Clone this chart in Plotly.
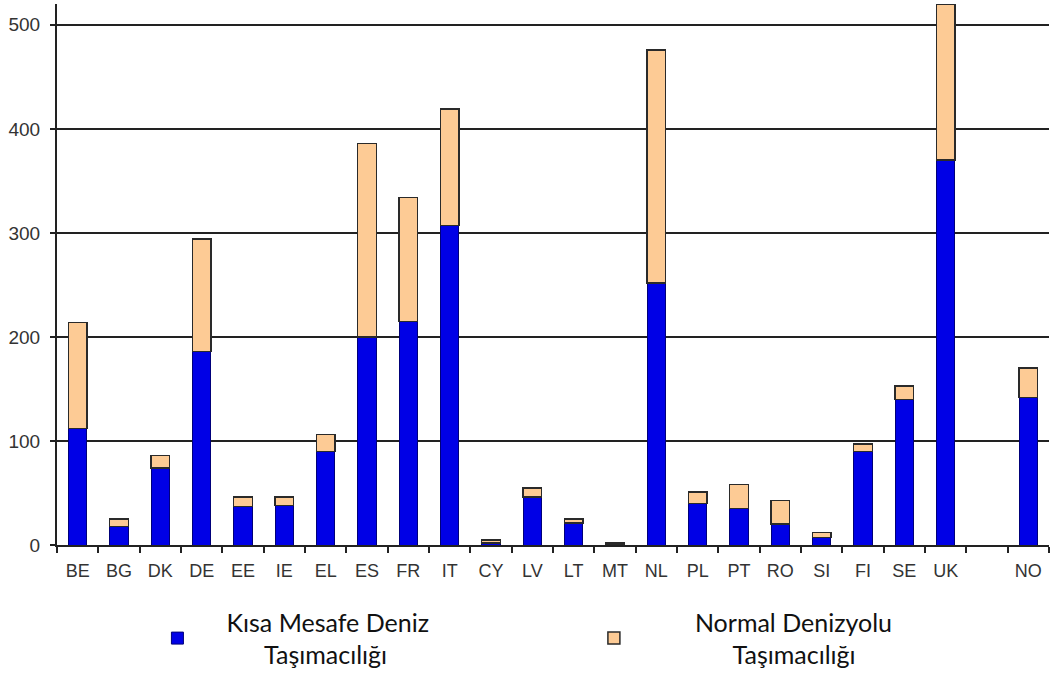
import plotly.graph_objects as go

categories = ["BE", "BG", "DK", "DE", "EE", "IE", "EL", "ES", "FR", "IT", "CY", "LV",
              "LT", "MT", "NL", "PL", "PT", "RO", "SI", "FI", "SE", "UK", " ", "NO"]
short_sea = [112, 18, 74, 186, 37, 38, 90, 200, 215, 307, 2, 46,
             21, 1, 252, 40, 35, 20, 7, 90, 140, 370, None, 142]
deep_sea = [102, 7, 12, 108, 9, 8, 16, 186, 119, 112, 3, 9,
            4, 1, 224, 11, 23, 23, 5, 7, 13, 150, None, 28]
y_ticks = [0, 100, 200, 300, 400, 500]
NB = "\u00a0"
series_names = ["Kısa Mesafe Deniz<br>" + NB * 6 + "Taşımacılığı",
                NB * 5 + "Normal Denizyolu<br>" + NB * 11 + "Taşımacılığı"]

fig = go.Figure()
fig.add_trace(go.Bar(
    x=categories, y=short_sea, name=series_names[0],
    marker=dict(color="#0000E6", line=dict(color="#00007A", width=1)),
    width=0.45, legend="legend",
))
fig.add_trace(go.Bar(
    x=categories, y=deep_sea, name=series_names[1],
    marker=dict(color="#FDCB95", line=dict(color="#2A2A2A", width=1.5)),
    width=0.45, legend="legend2",
))

legend_font = dict(family="Lato, Open Sans, sans-serif", size=25, color="#111111")
fig.update_layout(
    width=1060, height=698,
    barmode="stack",
    plot_bgcolor="white", paper_bgcolor="white",
    margin=dict(l=57, r=11, t=4, b=153),
    font=dict(family="Liberation Sans, Arial, sans-serif", color="#222222", size=16),
    showlegend=True,
    legend=dict(
        x=0.072, xanchor="left", y=-0.1, yanchor="top",
        font=legend_font, itemwidth=88, bgcolor="rgba(0,0,0,0)",
    ),
    legend2=dict(
        x=0.512, xanchor="left", y=-0.1, yanchor="top",
        font=legend_font, itemwidth=88, bgcolor="rgba(0,0,0,0)",
    ),
)
fig.update_xaxes(
    type="category", categoryorder="array", categoryarray=categories,
    showline=True, linecolor="#222222", linewidth=2,
    ticks="outside", tickson="boundaries", ticklen=6, tickwidth=2, tickcolor="#222222",
    ticklabelstandoff=8,
    showgrid=False, tickfont=dict(size=18, color="#333333"),
)
fig.update_yaxes(
    range=[0, 520], tickvals=y_ticks,
    showline=True, linecolor="#222222", linewidth=2,
    ticks="outside", ticklen=5, tickwidth=2, tickcolor="#222222",
    ticklabelstandoff=6,
    showgrid=True, gridcolor="#222222", gridwidth=2,
    zeroline=False, tickfont=dict(size=19, color="#333333"),
)

fig.write_html("out.html", config={"displayModeBar": False},
               post_script="document.body.style.margin='0';")
